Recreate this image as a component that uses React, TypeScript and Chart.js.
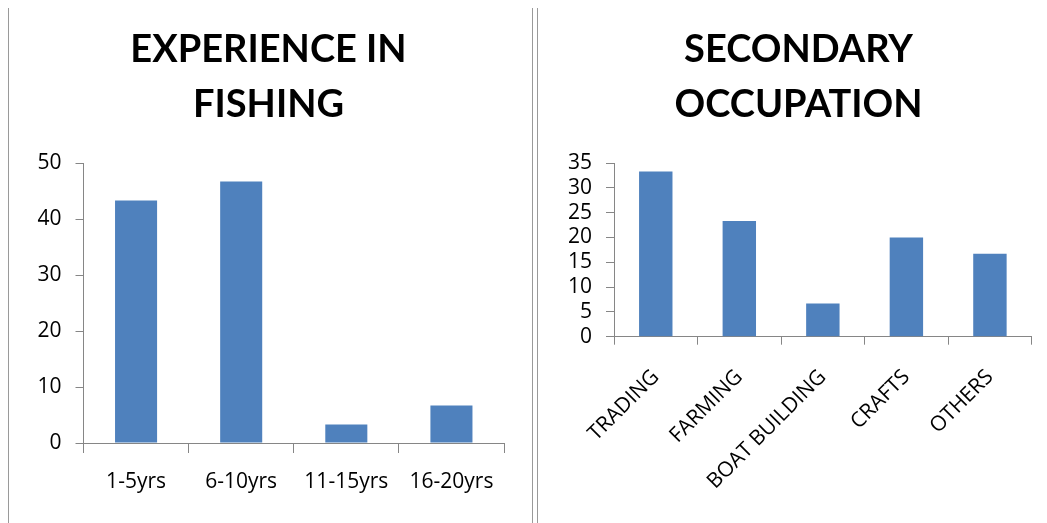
import React, { useEffect, useRef } from 'react';
import { Chart, registerables } from 'chart.js';

Chart.register(...registerables);

const expTitle = ['EXPERIENCE IN', 'FISHING'];
const expCategories = ['1-5yrs', '6-10yrs', '11-15yrs', '16-20yrs'];
const expValues = [43.3, 46.7, 3.3, 6.7];
const expMax = 50;
const expStep = 10;

const occTitle = ['SECONDARY', 'OCCUPATION'];
const occCategories = ['TRADING', 'FARMING', 'BOAT BUILDING', 'CRAFTS', 'OTHERS'];
const occValues = [33.3, 23.3, 6.7, 20, 16.7];
const occMax = 35;
const occStep = 5;

const BAR = '#4F81BD';
const AXIS = '#868686';
const TICKFONT = { family: 'Open Sans', size: 21 };

type Cfg = {
  title: string[];
  labels: string[];
  values: number[];
  max: number;
  step: number;
  padLeft: number;
  padRight: number;
  yWidth: number;
  xHeight: number;
  rotation: number;
  xPad: number;
  xTick: number;
};

function makeConfig(c: Cfg): any {
  return {
    type: 'bar',
    data: {
      labels: c.labels,
      datasets: [
        {
          data: c.values,
          backgroundColor: BAR,
          barPercentage: 0.4,
          categoryPercentage: 1,
        },
      ],
    },
    options: {
      responsive: false,
      animation: false,
      layout: { padding: { left: c.padLeft, right: c.padRight, top: 0, bottom: 0 } },
      plugins: {
        legend: { display: false },
        tooltip: { enabled: false },
        title: {
          display: true,
          text: c.title,
          color: '#000',
          font: { family: 'Lato', weight: 'bold', size: 38, lineHeight: 55 / 38 },
          padding: { top: 22, bottom: 31 },
        },
      },
      scales: {
        x: {
          grid: {
            display: true,
            drawOnChartArea: false,
            drawTicks: true,
            tickLength: c.xTick,
            color: AXIS,
            offset: true,
          },
          border: { display: true, color: AXIS, width: 1 },
          ticks: {
            color: '#000',
            font: TICKFONT,
            padding: c.xPad,
            autoSkip: false,
            maxRotation: c.rotation,
            minRotation: c.rotation,
          },
          afterFit: (s: any) => {
            s.height = c.xHeight;
          },
        },
        y: {
          min: 0,
          max: c.max,
          grid: {
            display: true,
            drawOnChartArea: false,
            drawTicks: true,
            tickLength: 8,
            color: AXIS,
          },
          border: { display: true, color: AXIS, width: 1 },
          ticks: { stepSize: c.step, color: '#000', font: TICKFONT, padding: 14, autoSkip: false },
          afterFit: (s: any) => {
            s.width = c.yWidth;
          },
        },
      },
    },
  };
}

function BarChart({ cfg, left, width }: { cfg: Cfg; left: number; width: number }) {
  const ref = useRef<HTMLCanvasElement | null>(null);
  useEffect(() => {
    if (!ref.current) return;
    const chart = new Chart(ref.current, makeConfig(cfg));
    return () => chart.destroy();
  }, []);
  return (
    <canvas
      ref={ref}
      width={width}
      height={523}
      style={{ position: 'absolute', left, top: 0, width, height: 523 }}
    />
  );
}

const leftCfg: Cfg = {
  title: expTitle,
  labels: expCategories,
  values: expValues,
  max: expMax,
  step: expStep,
  padLeft: 23,
  padRight: 26,
  yWidth: 50.5,
  xHeight: 80,
  rotation: 0,
  xPad: 16,
  xTick: 10,
};

const rightCfg: Cfg = {
  title: occTitle,
  labels: occCategories,
  values: occValues,
  max: occMax,
  step: occStep,
  padLeft: 25.3,
  padRight: 15.3,
  yWidth: 48.7,
  xHeight: 186.3,
  rotation: 45,
  xPad: 20,
  xTick: 8,
};

export default function App() {
  const line = (x: number) => (
    <div
      style={{
        position: 'absolute',
        left: x,
        top: 8,
        width: 1.5,
        height: 515,
        background: '#9a9a9a',
      }}
    />
  );
  return (
    <div
      style={{
        position: 'fixed',
        left: 0,
        top: 0,
        width: 1047,
        height: 523,
        background: '#fff',
        overflow: 'hidden',
      }}
    >
      {line(7.5)}
      {line(531.5)}
      {line(536.5)}
      <BarChart cfg={leftCfg} left={10} width={520} />
      <BarChart cfg={rightCfg} left={540} width={507} />
    </div>
  );
}
